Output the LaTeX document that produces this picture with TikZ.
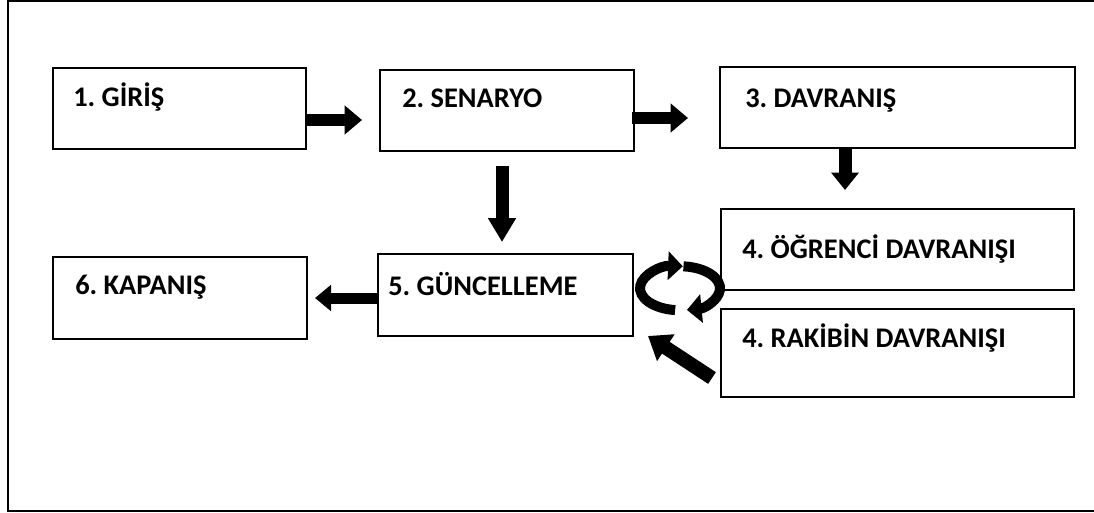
\documentclass[tikz,border=0pt]{standalone}
\usepackage{fontspec}
\setmainfont{Carlito}
\usetikzlibrary{arrows.meta,calc}
\frenchspacing
\tikzset{
  box/.style={draw, line width=1.5pt, inner sep=0pt, outer sep=0pt, rectangle},
  lbl/.style={anchor=base west, inner sep=0pt, font=\fontsize{21.3}{24}\selectfont\bfseries},
  bigarrow/.style={line width=#1, -{Triangle[length=13pt,width=21pt]}},
  bigarrow/.default=9pt,
  looparrow/.style={line width=7.5pt, -{Triangle[length=11pt,width=21pt]}}
}
\begin{document}
\begin{tikzpicture}[x=0.75pt,y=-0.75pt]
\useasboundingbox (0,0) rectangle (1094,513);
% outer frame (right edge lies outside the picture)
\draw[line width=1.5pt] (1094,1.5) -- (7.5,1.5) -- (7.5,510.5) -- (1094,510.5);
% boxes
\node[box, minimum width=189.75pt, minimum height=60.75pt] (b1) at (179.5,108.5) {};
\node[box, minimum width=190.5pt, minimum height=60.75pt] (b2) at (507,110.5) {};
\node[box, minimum width=266.25pt, minimum height=60.75pt] (b3) at (897.5,107.5) {};
\node[box, minimum width=264.75pt, minimum height=60.75pt] (b4) at (897.5,249.5) {};
\node[box, minimum width=264.75pt, minimum height=66pt] (b4r) at (897.5,353) {};
\node[box, minimum width=191.25pt, minimum height=61.5pt] (b5) at (505.5,295) {};
\node[box, minimum width=190.5pt, minimum height=61.5pt] (b6) at (180,298) {};
% texts
\node[lbl] (t1) at (73,107) {1. GİRİŞ};
\node[lbl] (t2) at (402,108) {2. SENARYO};
\node[lbl] (t3) at (745,108) {3. DAVRANIŞ};
\node[lbl] (t4) at (742,258) {4. ÖĞRENCİ DAVRANIŞI};
\node[lbl] (t4r) at (742,347) {4. RAKİBİN DAVRANIŞI};
\node[lbl] (t5) at (388,295) {5. GÜNCELLEME};
\node[lbl] (t6) at (75,294) {6. KAPANIŞ};
% block arrows
\draw[bigarrow] ($(b1.east)+(0,11.5)$) -- ($(b2.west)+(-18,9.5)$);
\draw[bigarrow] ($(b2.east)+(-2,7.5)$) -- ($(b3.west)+(-32,10.5)$);
\draw[bigarrow=9.75pt, -{Triangle[length=18pt,width=20pt]}] ($(b2.south)+(-5,15)$) -- ($(b5.north)+(-3.5,-12)$);
\draw[bigarrow=9.75pt, -{Triangle[length=13pt,width=20pt]}] ($(b3.south)+(-52.5,0)$) -- ($(b4.north)+(-52.5,-19)$);
\draw[bigarrow=8.25pt, -{Triangle[length=12pt,width=19pt]}] ($(b5.west)+(1,3)$) -- ($(b6.east)+(8,0)$);
\draw[bigarrow=10.5pt, -{Triangle[length=16pt,width=23pt]}] ($(b4r.west)+(-9,25)$) -- ($(b5.east)+(15,41)$);
% circular arrows between 5 and 4
\coordinate (cyc) at ($(b5.east)!0.5!(b4.west)+(3,16)$);
\draw[looparrow] (cyc) ++(97:40 and 22) arc[start angle=97, end angle=274, x radius=40, y radius=22];
\draw[looparrow] (cyc) ++(-85:40 and 22) arc[start angle=-85, end angle=80, x radius=40, y radius=22];
\end{tikzpicture}
\end{document}
